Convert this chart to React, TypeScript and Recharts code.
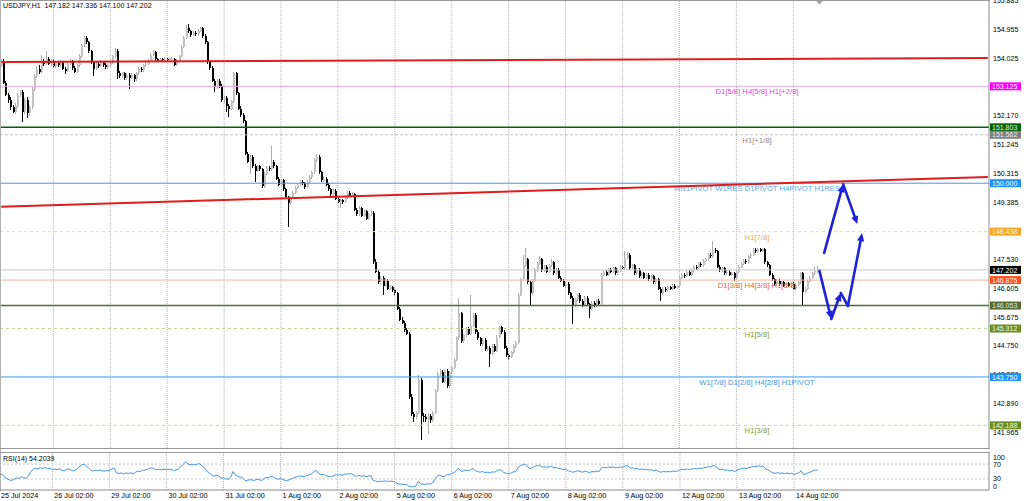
import React from 'react';
import {
  ComposedChart,
  LineChart,
  Line,
  Bar,
  XAxis,
  YAxis,
  ReferenceLine,
  ReferenceDot,
} from 'recharts';

const FONT = '"Liberation Sans", Arial, sans-serif';

// USDJPY H1 candles, [open, high, low, close]
const candles: [number, number, number, number][] = [
  [153.80, 153.98, 153.75, 153.95],
  [153.95, 154.00, 153.20, 153.23], [153.23, 153.30, 152.80, 152.85], [152.85, 152.92, 152.60, 152.70], [152.70, 152.78, 152.35, 152.45], [152.45, 152.52, 152.25, 152.30],
  [152.30, 152.58, 152.24, 152.50], [152.50, 152.90, 152.44, 152.85], [152.85, 153.02, 152.78, 152.95], [152.95, 153.00, 151.98, 152.30], [152.30, 152.76, 152.22, 152.70],
  [152.70, 152.78, 152.10, 152.25], [152.25, 152.52, 152.18, 152.45], [152.45, 153.10, 152.40, 153.05], [153.05, 153.52, 152.98, 153.45], [153.45, 153.78, 153.38, 153.70],
  [153.70, 153.80, 153.52, 153.60], [153.60, 154.15, 153.55, 153.95], [153.95, 154.02, 153.78, 153.85], [153.85, 154.25, 153.80, 154.00], [154.00, 154.08, 153.80, 153.85],
  [153.85, 154.02, 153.78, 153.95], [153.95, 154.00, 153.72, 153.78], [153.78, 153.95, 153.72, 153.88], [153.88, 153.94, 153.74, 153.80], [153.80, 153.97, 153.75, 153.90],
  [153.90, 153.95, 153.64, 153.70], [153.70, 153.76, 153.52, 153.62], [153.62, 153.90, 153.58, 153.85], [153.85, 154.00, 153.80, 153.92], [153.92, 153.97, 153.66, 153.72],
  [153.72, 153.78, 153.55, 153.60], [153.60, 153.86, 153.56, 153.80], [153.80, 154.16, 153.76, 154.10], [154.10, 154.50, 154.05, 154.45], [154.45, 154.75, 154.40, 154.70],
  [154.70, 154.74, 154.48, 154.55], [154.55, 154.60, 154.20, 154.25], [154.25, 154.30, 153.85, 153.90], [153.90, 153.95, 153.45, 153.70], [153.70, 153.90, 153.64, 153.85],
  [153.85, 153.92, 153.72, 153.78], [153.78, 153.96, 153.74, 153.90], [153.90, 153.95, 153.76, 153.82], [153.82, 153.88, 153.68, 153.75], [153.75, 153.85, 153.70, 153.80],
  [153.80, 153.94, 153.76, 153.88], [153.88, 154.15, 153.84, 154.10], [154.10, 154.35, 154.05, 154.28], [154.28, 154.32, 153.35, 153.55], [153.55, 153.62, 153.40, 153.45],
  [153.45, 153.60, 153.40, 153.55], [153.55, 153.60, 153.32, 153.38], [153.38, 153.56, 153.34, 153.50], [153.50, 153.55, 153.05, 153.40], [153.40, 153.54, 153.36, 153.48],
  [153.48, 153.52, 153.28, 153.35], [153.35, 153.60, 153.30, 153.55], [153.55, 153.76, 153.50, 153.70], [153.70, 153.75, 153.58, 153.65], [153.65, 153.86, 153.60, 153.80],
  [153.80, 153.90, 153.74, 153.85], [153.85, 154.00, 153.80, 153.95], [153.95, 154.20, 153.90, 154.15], [154.15, 154.30, 154.10, 154.22], [154.22, 154.26, 153.95, 154.00],
  [154.00, 154.05, 153.90, 153.95], [153.95, 154.05, 153.92, 154.00], [154.00, 154.04, 153.94, 153.98], [153.98, 154.06, 153.95, 154.02], [154.02, 154.05, 153.93, 153.97],
  [153.97, 154.04, 153.94, 154.00], [154.00, 154.06, 153.96, 154.02], [154.02, 154.05, 153.78, 153.82], [153.82, 154.00, 153.78, 153.95], [153.95, 154.14, 153.90, 154.10],
  [154.10, 154.45, 154.06, 154.40], [154.40, 154.75, 154.35, 154.70], [154.70, 155.10, 154.66, 155.00], [155.00, 155.15, 154.85, 154.90], [154.90, 154.95, 154.72, 154.78],
  [154.78, 154.90, 154.74, 154.85], [154.85, 154.90, 154.75, 154.80], [154.80, 154.97, 154.76, 154.92], [154.92, 155.05, 154.88, 155.00], [155.00, 155.04, 154.70, 154.75],
  [154.75, 154.80, 154.50, 154.55], [154.55, 154.60, 153.85, 153.90], [153.90, 153.95, 153.65, 153.72], [153.72, 153.78, 153.25, 153.30], [153.30, 153.36, 152.95, 153.10],
  [153.10, 153.36, 153.05, 153.30], [153.30, 153.35, 153.08, 153.15], [153.15, 153.20, 152.62, 152.68], [152.68, 152.82, 152.60, 152.75], [152.75, 152.80, 152.30, 152.50],
  [152.50, 152.56, 152.15, 152.40], [152.40, 152.70, 152.35, 152.65], [152.65, 153.60, 152.60, 153.55], [153.55, 153.60, 152.85, 152.90], [152.90, 152.95, 152.35, 152.40],
  [152.40, 152.48, 152.15, 152.20], [152.20, 152.26, 151.95, 152.00], [152.00, 152.05, 150.90, 150.95], [150.95, 151.00, 150.65, 150.70], [150.70, 150.90, 150.30, 150.85],
  [150.85, 150.90, 150.50, 150.55], [150.55, 150.62, 150.05, 150.40], [150.40, 150.60, 150.35, 150.55], [150.55, 150.60, 150.40, 150.45], [150.45, 150.50, 149.85, 149.90],
  [149.90, 150.35, 149.85, 150.30], [150.30, 150.55, 150.25, 150.50], [150.50, 150.56, 150.40, 150.45], [150.45, 151.20, 150.40, 150.70], [150.70, 150.76, 150.50, 150.55],
  [150.55, 150.60, 150.10, 150.15], [150.15, 150.20, 149.90, 149.95], [149.95, 150.15, 149.90, 150.10], [150.10, 150.14, 149.75, 149.80], [149.80, 149.85, 149.50, 149.55],
  [149.55, 149.60, 148.60, 149.35], [149.35, 149.60, 149.30, 149.55], [149.55, 149.75, 149.50, 149.70], [149.70, 149.90, 149.65, 149.85], [149.85, 150.00, 149.80, 149.95],
  [149.95, 150.10, 149.90, 150.05], [150.05, 150.10, 149.95, 150.00], [150.00, 150.04, 149.82, 149.88], [149.88, 150.10, 149.84, 150.05], [150.05, 150.25, 150.00, 150.20],
  [150.20, 150.40, 150.15, 150.35], [150.35, 150.80, 150.30, 150.75], [150.75, 150.95, 150.70, 150.85], [150.85, 150.90, 150.30, 150.35], [150.35, 150.40, 150.05, 150.10],
  [150.10, 150.22, 150.05, 150.15], [150.15, 150.20, 149.90, 149.95], [149.95, 150.00, 149.75, 149.80], [149.80, 149.85, 149.60, 149.65], [149.65, 149.80, 149.60, 149.75],
  [149.75, 149.80, 149.45, 149.50], [149.50, 149.56, 149.35, 149.40], [149.40, 149.50, 149.20, 149.45], [149.45, 149.50, 149.34, 149.40], [149.40, 149.60, 149.36, 149.55],
  [149.55, 149.75, 149.50, 149.70], [149.70, 149.74, 149.55, 149.60], [149.60, 149.72, 149.56, 149.65], [149.65, 149.70, 149.10, 149.15], [149.15, 149.20, 148.95, 149.00],
  [149.00, 149.25, 148.95, 149.20], [149.20, 149.24, 148.90, 148.95], [148.95, 149.15, 148.90, 149.10], [149.10, 149.14, 148.80, 148.85], [148.85, 149.05, 148.80, 149.00],
  [149.00, 149.12, 148.95, 149.05], [149.05, 149.10, 147.40, 147.45], [147.45, 147.55, 147.10, 147.15], [147.15, 147.20, 146.75, 146.80], [146.80, 147.00, 146.75, 146.95],
  [146.95, 147.00, 146.40, 146.70], [146.70, 146.90, 146.65, 146.85], [146.85, 146.90, 146.55, 146.60], [146.60, 146.72, 146.55, 146.65], [146.65, 146.70, 146.50, 146.55],
  [146.55, 146.60, 146.40, 146.45], [146.45, 146.50, 145.90, 145.95], [145.95, 146.00, 145.55, 145.60], [145.60, 145.70, 145.45, 145.50], [145.50, 145.56, 145.20, 145.25],
  [145.25, 145.32, 145.10, 145.15], [145.15, 145.20, 143.05, 143.10], [143.10, 143.20, 142.50, 142.55], [142.55, 142.62, 142.30, 142.45], [142.45, 142.66, 142.38, 142.60],
  [142.60, 143.80, 142.55, 143.65], [143.65, 143.70, 141.72, 142.50], [142.50, 142.60, 142.30, 142.45], [142.45, 142.55, 142.30, 142.40], [142.40, 142.58, 141.90, 142.50],
  [142.50, 142.56, 142.28, 142.35], [142.35, 142.66, 142.30, 142.60], [142.60, 143.36, 142.55, 143.30], [143.30, 143.90, 143.25, 143.85], [143.85, 144.00, 143.78, 143.90],
  [143.90, 143.96, 143.55, 143.60], [143.60, 144.00, 143.55, 143.95], [143.95, 144.00, 143.40, 143.45], [143.45, 143.95, 143.40, 143.90], [143.90, 144.10, 143.85, 144.05],
  [144.05, 144.35, 144.00, 144.30], [144.30, 145.05, 144.25, 145.00], [145.00, 146.30, 144.95, 145.80], [145.80, 145.85, 144.85, 144.90], [144.90, 145.15, 144.85, 145.10],
  [145.10, 145.35, 145.05, 145.30], [145.30, 145.36, 145.10, 145.15], [145.15, 146.40, 145.10, 145.40], [145.40, 145.80, 145.35, 145.75], [145.75, 145.80, 145.15, 145.20],
  [145.20, 145.26, 144.95, 145.00], [145.00, 145.05, 144.75, 144.80], [144.80, 145.00, 144.75, 144.95], [144.95, 145.00, 144.60, 144.65], [144.65, 144.76, 144.60, 144.70],
  [144.70, 144.75, 144.08, 144.50], [144.50, 144.80, 144.45, 144.75], [144.75, 144.80, 144.55, 144.60], [144.60, 145.10, 144.55, 145.05], [145.05, 145.40, 145.00, 145.35],
  [145.35, 145.40, 145.15, 145.20], [145.20, 145.25, 144.65, 144.70], [144.70, 144.75, 144.40, 144.45], [144.45, 144.50, 144.30, 144.40], [144.40, 144.60, 144.35, 144.55],
  [144.55, 144.80, 144.50, 144.75], [144.75, 144.90, 144.70, 144.85], [144.85, 146.45, 144.80, 146.40], [146.40, 146.95, 146.35, 146.90], [146.90, 147.70, 146.85, 147.35],
  [147.35, 147.90, 147.30, 147.55], [147.55, 147.60, 146.75, 146.80], [146.80, 146.85, 146.05, 146.45], [146.45, 146.90, 146.40, 146.85], [146.85, 147.25, 146.80, 147.20],
  [147.20, 147.45, 147.15, 147.40], [147.40, 147.65, 147.35, 147.55], [147.55, 147.60, 147.15, 147.20], [147.20, 147.35, 147.15, 147.30], [147.30, 147.35, 147.10, 147.15],
  [147.15, 147.40, 147.10, 147.35], [147.35, 147.55, 147.30, 147.45], [147.45, 147.50, 147.05, 147.10], [147.10, 147.25, 147.05, 147.20], [147.20, 147.25, 146.90, 146.95],
  [146.95, 147.00, 146.80, 146.85], [146.85, 146.90, 146.65, 146.70], [146.70, 146.80, 146.65, 146.75], [146.75, 146.80, 146.40, 146.45], [146.45, 146.50, 146.25, 146.30],
  [146.30, 146.35, 145.45, 146.05], [146.05, 146.30, 146.00, 146.25], [146.25, 146.45, 146.20, 146.40], [146.40, 146.45, 146.15, 146.20], [146.20, 146.25, 146.00, 146.05],
  [146.05, 146.35, 146.00, 146.30], [146.30, 146.35, 146.05, 146.10], [146.10, 146.15, 145.65, 145.95], [145.95, 146.20, 145.90, 146.15], [146.15, 146.20, 146.00, 146.05],
  [146.05, 146.25, 146.00, 146.20], [146.20, 146.25, 146.05, 146.10], [146.10, 147.10, 146.05, 147.05], [147.05, 147.20, 147.00, 147.15], [147.15, 147.20, 147.00, 147.05],
  [147.05, 147.25, 147.00, 147.20], [147.20, 147.25, 147.10, 147.15], [147.15, 147.30, 147.10, 147.25], [147.25, 147.30, 147.05, 147.10], [147.10, 147.25, 147.05, 147.20],
  [147.20, 147.35, 147.15, 147.30], [147.30, 147.35, 147.20, 147.25], [147.25, 147.80, 147.20, 147.60], [147.60, 147.78, 147.55, 147.70], [147.70, 147.75, 147.20, 147.25],
  [147.25, 147.40, 147.20, 147.35], [147.35, 147.40, 147.05, 147.10], [147.10, 147.25, 147.05, 147.20], [147.20, 147.25, 146.95, 147.00], [147.00, 147.15, 146.95, 147.10],
  [147.10, 147.15, 146.90, 146.95], [146.95, 147.10, 146.90, 147.05], [147.05, 147.10, 146.85, 146.90], [146.90, 147.05, 146.85, 147.00], [147.00, 147.05, 146.75, 146.80],
  [146.80, 146.95, 146.75, 146.90], [146.90, 146.95, 146.55, 146.60], [146.60, 146.65, 146.20, 146.45], [146.45, 146.65, 146.40, 146.60], [146.60, 146.66, 146.50, 146.55],
  [146.55, 146.70, 146.50, 146.65], [146.65, 146.70, 146.55, 146.60], [146.60, 146.75, 146.55, 146.70], [146.70, 146.75, 146.58, 146.62], [146.62, 146.72, 146.58, 146.68],
  [146.68, 147.00, 146.64, 146.95], [146.95, 147.10, 146.90, 147.05], [147.05, 147.10, 146.95, 147.00], [147.00, 147.20, 146.96, 147.15], [147.15, 147.20, 147.00, 147.05],
  [147.05, 147.25, 147.00, 147.20], [147.20, 147.35, 147.15, 147.30], [147.30, 147.35, 147.20, 147.25], [147.25, 147.45, 147.20, 147.40], [147.40, 147.45, 147.30, 147.35],
  [147.35, 147.55, 147.30, 147.50], [147.50, 147.60, 147.45, 147.55], [147.55, 147.75, 147.50, 147.70], [147.70, 147.75, 147.60, 147.65], [147.65, 148.15, 147.60, 147.85],
  [147.85, 147.90, 147.75, 147.80], [147.80, 147.85, 147.25, 147.30], [147.30, 147.35, 147.15, 147.20], [147.20, 147.30, 147.15, 147.25], [147.25, 147.30, 147.05, 147.10],
  [147.10, 147.20, 147.05, 147.15], [147.15, 147.20, 147.00, 147.05], [147.05, 147.15, 147.00, 147.10], [147.10, 147.15, 146.85, 146.95], [146.95, 147.20, 146.90, 147.15],
  [147.15, 147.35, 147.10, 147.30], [147.30, 147.45, 147.25, 147.40], [147.40, 147.55, 147.35, 147.50], [147.50, 147.55, 147.40, 147.45], [147.45, 147.70, 147.40, 147.65],
  [147.65, 147.75, 147.60, 147.70], [147.70, 147.90, 147.65, 147.85], [147.85, 147.90, 147.75, 147.80], [147.80, 147.92, 147.75, 147.88], [147.88, 147.92, 147.78, 147.82],
  [147.82, 147.92, 147.78, 147.88], [147.88, 147.90, 147.40, 147.45], [147.45, 147.50, 147.30, 147.35], [147.35, 147.40, 147.00, 147.05], [147.05, 147.10, 146.85, 146.90],
  [146.90, 146.95, 146.70, 146.75], [146.75, 146.90, 146.70, 146.85], [146.85, 146.90, 146.70, 146.75], [146.75, 146.85, 146.70, 146.80], [146.80, 146.85, 146.65, 146.70],
  [146.70, 146.82, 146.66, 146.78], [146.78, 146.82, 146.65, 146.70], [146.70, 146.80, 146.66, 146.75], [146.75, 146.80, 146.55, 146.60], [146.60, 146.76, 146.55, 146.72],
  [146.72, 146.85, 146.68, 146.80], [146.80, 147.15, 146.75, 147.10], [147.10, 147.15, 146.05, 146.50], [146.50, 146.65, 146.45, 146.60], [146.60, 146.90, 146.55, 146.85],
  [146.85, 147.00, 146.80, 146.95], [146.95, 147.15, 146.90, 147.10], [147.10, 147.30, 147.05, 147.18], [147.182, 147.336, 147.100, 147.202],
];

// RSI(14), one value per candle
const rsi = [
  45,
  41, 35, 30, 27, 26, 29, 33, 31, 36, 33,
  32, 38, 50, 56, 59, 57, 60, 58, 61, 58,
  59, 55, 57, 55, 57, 53, 52, 56, 57, 53,
  51, 55, 61, 66, 70, 67, 61, 55, 51, 53,
  52, 54, 52, 51, 52, 53, 57, 59, 46, 45,
  46, 44, 46, 45, 46, 44, 48, 51, 50, 53,
  54, 56, 59, 60, 56, 55, 56, 55, 56, 55,
  56, 56, 52, 54, 57, 63, 68, 76, 71, 68,
  69, 68, 70, 71, 65, 61, 50, 47, 40, 37,
  41, 38, 32, 33, 30, 29, 34, 50, 41, 37,
  35, 33, 26, 25, 28, 27, 26, 29, 28, 25,
  31, 34, 33, 37, 35, 31, 29, 32, 28, 26,
  25, 29, 31, 34, 36, 38, 37, 36, 39, 41,
  43, 50, 53, 45, 41, 42, 39, 37, 36, 38,
  41, 40, 41, 40, 42, 44, 43, 44, 39, 37,
  40, 37, 39, 36, 38, 39, 26, 24, 22, 24,
  23, 25, 23, 24, 23, 22, 18, 16, 16, 15,
  15, 10, 9, 9, 11, 24, 16, 16, 15, 17,
  16, 19, 30, 38, 40, 37, 36, 42, 41, 45,
  47, 53, 58, 50, 52, 54, 52, 55, 58, 52,
  50, 48, 50, 47, 48, 46, 49, 48, 52, 55,
  53, 47, 45, 44, 46, 49, 50, 62, 66, 69,
  70, 62, 58, 61, 64, 66, 67, 62, 63, 61,
  63, 64, 60, 61, 58, 57, 55, 56, 52, 50,
  48, 50, 52, 50, 48, 51, 49, 47, 50, 49,
  51, 50, 60, 61, 60, 62, 61, 62, 60, 61,
  62, 61, 65, 66, 59, 60, 57, 58, 56, 57,
  55, 56, 54, 55, 52, 54, 50, 48, 50, 49,
  50, 49, 51, 50, 51, 55, 56, 55, 57, 55,
  57, 58, 57, 59, 58, 60, 61, 63, 62, 66,
  65, 57, 55, 56, 53, 54, 52, 53, 50, 54,
  56, 58, 59, 58, 61, 62, 64, 63, 65, 64,
  65, 57, 55, 50, 47, 45, 47, 45, 46, 44,
  46, 44, 45, 42, 45, 46, 52, 41, 43, 47,
  49, 52, 54, 54.2039,
];

const futureSlots = 72; // empty hours after the last bar (chart shift)

const dayTicks = [0, 22, 46, 70, 94, 118, 142, 166, 190, 214, 238, 262, 286, 310, 334];
const dayLabels = [
  '25 Jul 2024', '26 Jul 02:00', '29 Jul 02:00', '30 Jul 02:00', '31 Jul 02:00',
  '1 Aug 02:00', '2 Aug 02:00', '5 Aug 02:00', '6 Aug 02:00', '7 Aug 02:00',
  '8 Aug 02:00', '9 Aug 02:00', '12 Aug 02:00', '13 Aug 02:00', '14 Aug 02:00',
];

const priceTicks = [
  155.885, 154.955, 154.025, 153.095, 152.17, 151.245, 150.315, 149.385,
  148.46, 147.53, 146.605, 145.675, 144.75, 143.82, 142.89, 141.965,
];
const priceDomain = [141.458, 155.91];

const levelPrices = [153.125, 151.803, 151.562, 150.0, 148.438, 146.875, 146.053, 145.312, 143.75, 142.188];
const levelTexts = [
  'D1[5/8] H4[5/8] H1[+2/8]',
  '',
  'H1[+1/8]',
  'MN1PIVOT W1RES D1PIVOT H4PIVOT H1RES',
  'H1[7/8]',
  'D1[3/8] H4[3/8] H1[6/8]',
  '',
  'H1[5/8]',
  'W1[7/8] D1[2/8] H4[2/8] H1PIVOT',
  'H1[3/8]',
];
const levelStyles = [
  { line: '#eaa6ea', width: 1, dash: undefined, text: '#e83ce8', tag: '#ff00ff', tagText: '#ffe0ff' },
  { line: '#006400', width: 1.5, dash: undefined, text: '#006400', tag: '#006400', tagText: '#e6e6e6' },
  { line: '#c4c4c4', width: 1, dash: '3 2', text: '#888888', tag: '#808080', tagText: '#ececec' },
  { line: '#3d9ae8', width: 1, dash: undefined, text: '#5aa8ec', tag: '#1e90ff', tagText: '#ffffff' },
  { line: '#f6d49a', width: 1, dash: '3 3', text: '#f2ac3c', tag: '#f5a623', tagText: '#fff6e0' },
  { line: '#f2b59c', width: 1, dash: undefined, text: '#ec6434', tag: '#ff4f1a', tagText: '#fff0e8' },
  { line: '#556b2f', width: 1.5, dash: undefined, text: '#556b2f', tag: '#556b2f', tagText: '#e6e6e6' },
  { line: '#cdd09a', width: 1, dash: '3 3', text: '#7d9c3c', tag: '#6b8e23', tagText: '#f0f6e0' },
  { line: '#3d9ae8', width: 1, dash: undefined, text: '#3d9ae8', tag: '#1e90ff', tagText: '#ffffff' },
  { line: '#cdd09a', width: 1, dash: '3 3', text: '#7d9c3c', tag: '#6b8e23', tagText: '#f0f6e0' },
];

const quote = { symbol: 'USDJPY,H1', open: 147.182, high: 147.336, low: 147.1, close: 147.202 };

// trend lines: [fromBar, fromPrice, toBar, toPrice]
const trendLines = [
  [0, 153.91, 416, 154.04],
  [0, 149.24, 416, 150.2],
];

// hand-drawn forecast arrows: [bar, price] points
const arrowPaths = [
  [[347, 147.75], [355, 149.97], [361, 148.68]],
  [[345, 147.17], [350, 145.62], [354, 146.46], [357, 146.04], [363, 148.39]],
];
const arrowHeads = [
  [true, true],
  [true, true, false, true],
];

const rsiTicks = [0, 30, 70, 100];
const rsiLevels = [30, 70];

const rows = Array.from({ length: candles.length + futureSlots }, (_, i) => {
  const k = candles[i];
  return k ? { i, o: k[0], h: k[1], l: k[2], c: k[3], rsi: rsi[i] } : { i };
});

const ARROW = '#1d22d8';
const GRID = '#b4b4b4';

function Candle(props: any) {
  const { x, y, width, height, payload } = props;
  if (!payload || payload.o == null || !isFinite(y) || !isFinite(height)) return null;
  const { o, h, l, c } = payload;
  const k = h > l ? height / (h - l) : 0;
  const cx = Math.floor(x + width / 2);
  const yo = y + (h - o) * k;
  const yc = y + (h - c) * k;
  const up = c >= o;
  const top = Math.min(yo, yc);
  const bh = Math.max(1, Math.abs(yc - yo));
  return (
    <g shapeRendering="crispEdges">
      <line x1={cx + 0.5} x2={cx + 0.5} y1={y} y2={y + height} stroke={up ? '#acacac' : '#000'} />
      <rect x={cx - 0.5} y={top} width={2} height={bh} fill={up ? '#c2c2c2' : '#000'} />
    </g>
  );
}

const levelShape = (idx: number) => (p: any) => {
  const s = levelStyles[idx];
  const text = levelTexts[idx];
  const left = Math.min(p.x1, p.x2);
  const right = Math.max(p.x1, p.x2);
  const y = p.y1;
  return (
    <g>
      <line x1={left} x2={right} y1={y} y2={y} stroke={s.line} strokeWidth={s.width} strokeDasharray={s.dash} />
      {text ? (
        <text x={left + 757} y={y + 8} textAnchor="middle" fontSize={7.7} fill={s.text} fontFamily={FONT}>
          {text}
        </text>
      ) : null}
    </g>
  );
};

const tagShape = (price: number, bg: string, fg: string) => (p: any) => {
  const right = Math.max(p.x1, p.x2);
  const y = p.y1;
  return (
    <g>
      <rect x={right + 1} y={y - 4} width={31} height={8} fill={bg} />
      <text x={right + 3} y={y + 2.6} fontSize={7} fill={fg} fontFamily={FONT}>
        {price.toFixed(3)}
      </text>
    </g>
  );
};

const arrowShape = (head: boolean) => (p: any) => {
  const { x1, y1, x2, y2 } = p;
  const a = Math.atan2(y2 - y1, x2 - x1);
  const L = 8;
  const W = 3.6;
  const bx = x2 - L * Math.cos(a);
  const by = y2 - L * Math.sin(a);
  const nx = -Math.sin(a) * W;
  const ny = Math.cos(a) * W;
  return (
    <g>
      <line x1={x1} y1={y1} x2={head ? bx : x2} y2={head ? by : y2} stroke={ARROW} strokeWidth={2.6} strokeLinecap="round" />
      {head ? <polygon points={`${x2},${y2} ${bx + nx},${by + ny} ${bx - nx},${by - ny}`} fill={ARROW} /> : null}
    </g>
  );
};

const DateTick = (p: any) => {
  const v = p.payload.value;
  const label = dayLabels[dayTicks.indexOf(v)];
  return (
    <text x={v === 0 ? 1 : p.x + 2} y={p.y + 8} fontSize={7.2} fill="#000" fontFamily={FONT}>
      {label}
    </text>
  );
};

const RsiTick = (p: any) => {
  const v = p.payload.value;
  const dy = v === 100 ? 4 : v === 0 ? -4 : 0;
  return (
    <text x={p.x} y={p.y + dy + 2.5} fontSize={7} fill="#000" fontFamily={FONT}>
      {v}
    </text>
  );
};

const ShiftMark = (p: any) => (
  <polygon points={`${p.cx - 4},0 ${p.cx + 4},0 ${p.cx},5`} fill="#a8a8a8" />
);

const hLine = (top: number, color = '#9a9a9a') => (
  <div style={{ position: 'absolute', left: 0, top, width: 990, height: 1, background: color }} />
);

const mainMargin = { top: 0, right: 0, bottom: 0, left: 0 };

export default function App() {
  return (
    <div
      style={{
        position: 'absolute',
        left: 0,
        top: 0,
        width: 1024,
        height: 501,
        overflow: 'hidden',
        background: '#fff',
        fontFamily: FONT,
      }}
    >
      <div style={{ position: 'absolute', left: 0, top: 0 }}>
        <ComposedChart width={1024} height={448} data={rows} margin={mainMargin}>
          <XAxis dataKey="i" type="category" hide padding={{ left: 0, right: 0 }} />
          <YAxis
            orientation="right"
            width={35}
            domain={priceDomain}
            allowDataOverflow
            ticks={priceTicks}
            interval={0}
            tickFormatter={(v: number) => v.toFixed(3)}
            tick={{ fontSize: 7, fill: '#000', fontFamily: FONT }}
            tickLine={false}
            tickSize={2}
            tickMargin={2}
            axisLine={{ stroke: '#8a8a8a' }}
          />
          {dayTicks.slice(1).map((d) => (
            <ReferenceLine key={'g' + d} x={d} stroke={GRID} strokeDasharray="1 1" />
          ))}
          {levelPrices.map((v, idx) => (
            <ReferenceLine key={'l' + idx} y={v} shape={levelShape(idx)} />
          ))}
          <ReferenceLine y={quote.close} stroke="#cacaca" />
          {trendLines.map((t, idx) => (
            <ReferenceLine
              key={'t' + idx}
              segment={[
                { x: t[0], y: t[1] },
                { x: t[2], y: t[3] },
              ]}
              stroke="#e01c1c"
              strokeWidth={2}
            />
          ))}
          <Bar dataKey={(d: any) => (d.o == null ? null : [d.l, d.h])} shape={Candle} isAnimationActive={false} />
          {arrowPaths.map((path, pi) =>
            path.slice(1).map((pt, si) => (
              <ReferenceLine
                key={'a' + pi + '-' + si}
                segment={[
                  { x: path[si][0], y: path[si][1] },
                  { x: pt[0], y: pt[1] },
                ]}
                shape={arrowShape(arrowHeads[pi][si])}
              />
            ))
          )}
          <ReferenceDot x={candles.length} y={priceDomain[1]} shape={ShiftMark} />
        </ComposedChart>
      </div>
      {/* price tags drawn above the axis labels, on the same scales */}
      <div style={{ position: 'absolute', left: 0, top: 0 }}>
        <ComposedChart width={1024} height={448} data={rows} margin={mainMargin}>
          <XAxis dataKey="i" type="category" hide padding={{ left: 0, right: 0 }} />
          <YAxis
            orientation="right"
            width={35}
            domain={priceDomain}
            allowDataOverflow
            tick={false}
            tickLine={false}
            axisLine={false}
          />
          {levelPrices.map((v, idx) => (
            <ReferenceLine
              key={'tag' + idx}
              y={v}
              shape={tagShape(v, levelStyles[idx].tag, levelStyles[idx].tagText)}
            />
          ))}
          <ReferenceLine y={quote.close} shape={tagShape(quote.close, '#000', '#fff')} />
        </ComposedChart>
      </div>
      <div
        style={{ position: 'absolute', left: 3, top: 1, fontSize: 7, whiteSpace: 'pre', color: '#000', lineHeight: '9px' }}
      >
        {`${quote.symbol}  ${quote.open.toFixed(3)} ${quote.high.toFixed(3)} ${quote.low.toFixed(3)} ${quote.close.toFixed(3)}`}
      </div>
      {hLine(0)}
      <div style={{ position: 'absolute', left: 0, top: 0, width: 1, height: 491, background: '#b0b0b0' }} />
      {hLine(448)}
      {hLine(452)}
      <div style={{ position: 'absolute', left: 0, top: 451 }}>
        <LineChart width={1024} height={50} data={rows} margin={{ top: 2, right: 0, bottom: 0, left: 0 }}>
          <XAxis
            dataKey="i"
            type="category"
            padding={{ left: 0, right: 0 }}
            ticks={dayTicks}
            interval={0}
            height={11}
            tick={<DateTick />}
            tickLine={false}
            tickSize={0}
            tickMargin={0}
            axisLine={{ stroke: '#8a8a8a' }}
          />
          <YAxis
            orientation="right"
            width={35}
            domain={[0, 100]}
            ticks={rsiTicks}
            interval={0}
            tick={<RsiTick />}
            tickLine={false}
            tickSize={2}
            tickMargin={2}
            axisLine={{ stroke: '#8a8a8a' }}
          />
          {dayTicks.slice(1).map((d) => (
            <ReferenceLine key={'rg' + d} x={d} stroke={GRID} strokeDasharray="1 1" />
          ))}
          {rsiLevels.map((v) => (
            <ReferenceLine key={'rl' + v} y={v} stroke="#c8c8c8" strokeDasharray="2 2" />
          ))}
          <Line dataKey="rsi" stroke="#4596e0" strokeWidth={1} dot={false} isAnimationActive={false} />
        </LineChart>
      </div>
      <div style={{ position: 'absolute', left: 3, top: 454, fontSize: 7, color: '#000', lineHeight: '9px' }}>
        {`RSI(14) ${rsi[rsi.length - 1].toFixed(4)}`}
      </div>
    </div>
  );
}
